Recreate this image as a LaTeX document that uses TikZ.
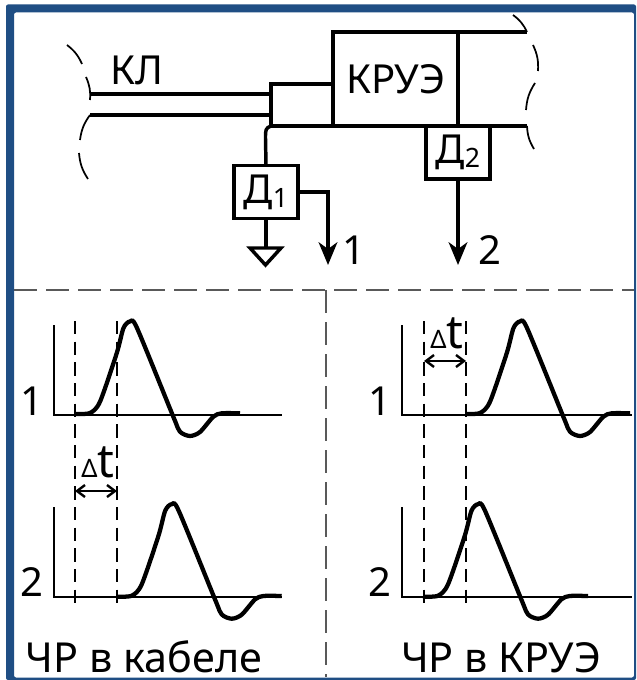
\documentclass[tikz,border=0pt]{standalone}
\usepackage{fontspec}
\setmainfont{Noto Sans}
\usetikzlibrary{arrows.meta}
\definecolor{framecol}{HTML}{1F4E84}
\newcommand{\lblsize}{\fontsize{30}{30}\selectfont}
\newcommand{\subsize}[1]{\raisebox{-3pt}{\fontsize{20}{20}\selectfont #1}}
\newcommand{\deltat}{{\fontsize{19}{19}\selectfont\bfseries Δ}{\fontsize{35}{35}\selectfont t}}
\begin{document}
\begin{tikzpicture}
    \def\dx{0.75pt}
    \def\dy{-0.75pt}

    \tikzstyle{lbl}=[inner sep=0pt,anchor=base,font=\lblsize]
    \tikzstyle{caption}=[inner sep=0pt,anchor=base,font=\fontsize{31}{31}\selectfont]
    \tikzstyle{unit}=[draw=black,line width=2.6pt,inner sep=0pt,outer sep=0pt,font=\lblsize]
    \tikzstyle{sensor}=[unit,minimum width=48pt,minimum height=40pt]
    \tikzstyle{bus}=[draw=black,line width=2.6pt]
    \tikzstyle{axisline}=[draw=black,line width=1.8pt]
    \tikzstyle{brk}=[draw=black,line width=1.3pt]
    \tikzstyle{sepline}=[draw=black!65,line width=1pt,dash pattern=on 17pt off 7pt]
    \tikzstyle{markline}=[draw=black,line width=1.9pt,dash pattern=on 10pt off 5.5pt]
    \tikzstyle{sig}=[draw=black,line width=3.2pt,line join=round]
    \tikzstyle{outarrow}=[bus,-{Stealth[length=17pt,width=14pt,inset=5pt]}]
    \tikzstyle{spanarrow}=[axisline,{Straight Barb[length=6pt,width=9pt]}-{Straight Barb[length=6pt,width=9pt]}]

    \useasboundingbox (0,0) rectangle (636*\dx,680*\dy);
    \fill[white] (0,0) rectangle (636*\dx,680*\dy);
    \fill[framecol,even odd rule,rounded corners=1.5pt] (6*\dx,4.5*\dy) rectangle (636*\dx,680*\dy)
        (14*\dx,12.5*\dy) rectangle (634*\dx,677.5*\dy);

    % upper part
    \node[unit,minimum width=93.75pt,minimum height=70.5pt] (kruye) at (395.5*\dx,79*\dy) {КРУЭ};
    \node[unit,minimum width=46.5pt,minimum height=31.5pt] (term) at (302*\dx,105*\dy) {};
    \node[sensor] (d1) at (266*\dx,192*\dy) {Д\subsize{1}};
    \node[sensor] (d2) at (458*\dx,152.5*\dy) {Д\subsize{2}};
    \node[lbl] (kl) at (137*\dx,85*\dy) {КЛ};
    \node[lbl] (n1) at (354*\dx,265*\dy) {1};
    \node[lbl] (n2) at (490*\dx,265*\dy) {2};

    \coordinate (kla) at (90*\dx,94*\dy);
    \coordinate (klb) at (90*\dx,115*\dy);
    \coordinate (terma) at (term.west |- kla);
    \coordinate (termb) at (term.west |- klb);
    \coordinate (top) at (527*\dx,32*\dy);
    \coordinate (low) at (527*\dx,126*\dy);
    \coordinate (gnda) at (250*\dx,248*\dy);
    \coordinate (gndb) at (281*\dx,248*\dy);
    \coordinate (gndc) at (265.5*\dx,265*\dy);
    \coordinate (out1) at (328*\dx,265*\dy);
    \coordinate (out2) at (458*\dx,265*\dy);

    \draw [bus] (kla) -- (terma);
    \draw [bus] (klb) -- (termb);
    \draw [bus,line width=3pt] (kruye.north west) -- (top);
    \draw [bus] (kruye.south west) -- (low);
    \draw [bus] (kruye.north east) -- (kruye.south east);
    \draw [bus] (term.south west) .. controls (265.5*\dx,128*\dy) and (265.5*\dx,130*\dy) .. (265.5*\dx,138*\dy) -- (d1.north);
    \draw [bus] (d1.south) -- (gnda -| d1.south);
    \draw [bus,line join=miter] (gnda) -- (gndb) -- (gndc) -- cycle;
    \draw [outarrow] (d1.east) -- (out1 |- d1.east) -- (out1);
    \draw [outarrow] (d2.south) -- (out2);

    % cable breaks
    \foreach \xa/\ya/\xb/\yb/\bnd in {67/45/82/64/left,86/77/90/100/left,90/115/80/140/right,79/153/88/179/right,
        513/15/527/32/left,533/45/538/71/left,535/83/526/110/right,527/126/534/149/right}
        \draw [brk] (\xa*\dx,\ya*\dy) to[bend \bnd=14] (\xb*\dx,\yb*\dy);

    % separators
    \coordinate (sepa) at (14*\dx,290*\dy);
    \coordinate (sepb) at (634*\dx,290*\dy);
    \coordinate (sepc) at (326*\dx,290*\dy);
    \coordinate (sepd) at (326*\dx,677*\dy);
    \draw [sepline] (sepa) -- (sepb);
    \draw [sepline] (sepc) -- (sepd);

    % axes
    \foreach \ax/\ay/\ex in {54/415/282,54/597/282,402/415/632,402/597/632}
        \draw [axisline] (\ax*\dx,\ay*\dy-90*\dy) -- (\ax*\dx,\ay*\dy) -- (\ex*\dx,\ay*\dy);

    % pulses
    \foreach \sx/\sy in {0/0,41.7/182.7,390/0,348/182.7}
        \draw [sig,shift={(\sx*\dx,\sy*\dy)}] plot[smooth,tension=0.45] coordinates {(75*\dx,414*\dy) (90*\dx,413*\dy)
            (100*\dx,401.7*\dy) (116.7*\dx,353.3*\dy) (123.5*\dx,328*\dy) (130*\dx,321.5*\dy) (137*\dx,328*\dy)
            (173.3*\dx,416.7*\dy) (180*\dx,431.7*\dy) (190*\dx,436*\dy) (200*\dx,432*\dy) (213.3*\dx,416.7*\dy)
            (221.7*\dx,413.3*\dy) (240*\dx,413.3*\dy)};

    % time marks
    \foreach \mx in {75,117,424,466}
        \draw [markline] (\mx*\dx,321*\dy) -- (\mx*\dx,608*\dy);

    \coordinate (spana) at (75*\dx,491*\dy);
    \coordinate (spanb) at (117*\dx,491*\dy);
    \coordinate (spanc) at (424*\dx,361*\dy);
    \coordinate (spand) at (466*\dx,361*\dy);
    \draw [spanarrow] (spana) -- (spanb);
    \draw [spanarrow] (spanc) -- (spand);

    \node[lbl,anchor=base west] (dta) at (81*\dx,477*\dy) {\deltat};
    \node[lbl,anchor=base west] (dtb) at (430*\dx,348*\dy) {\deltat};

    % lower labels
    \node[lbl] (p1a) at (32*\dx,415*\dy) {1};
    \node[lbl] (p2a) at (32*\dx,596*\dy) {2};
    \node[lbl] (p1b) at (380*\dx,415*\dy) {1};
    \node[lbl] (p2b) at (380*\dx,596*\dy) {2};
    \node[caption] (cap1) at (144*\dx,672*\dy) {ЧР в кабеле};
    \node[caption] (cap2) at (501*\dx,672*\dy) {ЧР в КРУЭ};

\end{tikzpicture}
\end{document}
